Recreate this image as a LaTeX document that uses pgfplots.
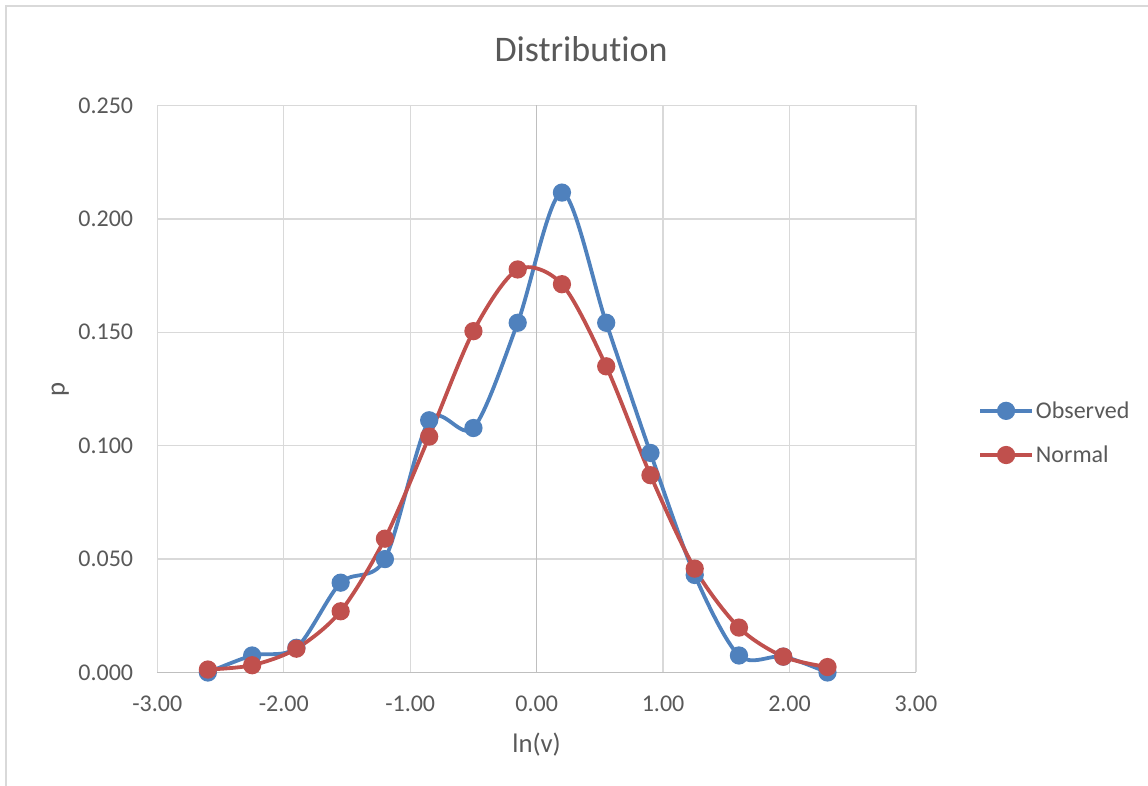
\documentclass[border=0pt]{standalone}
\usepackage{pgfplots}
\pgfplotsset{compat=1.18}
\usepackage{fontspec}
\setmainfont{Carlito}[Ligatures=NoCommon]
\definecolor{obsblue}{HTML}{4F81BD}
\definecolor{normred}{HTML}{C0504D}
\definecolor{gridgray}{HTML}{D9D9D9}
\definecolor{axgray}{HTML}{BFBFBF}
\definecolor{txtgray}{HTML}{595959}
\begin{document}
\begin{tikzpicture}[x=1pt,y=1pt]
\useasboundingbox (0,0) rectangle (1148,786);
\draw[gridgray,line width=1.5pt] (6,-20) -- (6,780) -- (1170,780);
\begin{axis}[
  at={(157.3pt,113.5pt)}, anchor=south west,
  scale only axis, width=758.7pt, height=567pt,
  xmin=-3, xmax=3, ymin=0, ymax=0.25,
  xtick={-3,-2,-1,0,1,2,3},
  ytick={0,0.05,0.1,0.15,0.2,0.25},
  grid=major,
  major grid style={gridgray,line width=1.3pt},
  axis line style={draw=none},
  major tick length=0pt,
  tick style={draw=none},
  clip=false,
  /pgf/number format/assume math mode=true,
  xticklabel style={font=\fontsize{24}{28}\selectfont, text=txtgray, anchor=base, yshift=-39pt,
    /pgf/number format/fixed, /pgf/number format/fixed zerofill, /pgf/number format/precision=2},
  yticklabel style={font=\fontsize{24}{28}\selectfont, text=txtgray, anchor=east, inner sep=0pt, xshift=-24pt,
    /pgf/number format/fixed, /pgf/number format/fixed zerofill, /pgf/number format/precision=3},
  title={Distribution},
  title style={font=\fontsize{36}{42}\selectfont, text=txtgray, at={(axis description cs:0.5585,1.0)}, anchor=base, yshift=38pt, inner sep=0pt},
  xlabel={ln(v)},
  xlabel style={font=\fontsize{26.7}{30}\selectfont, text=txtgray, at={(axis description cs:0.5,0)}, anchor=base, yshift=-80.5pt, inner sep=0pt},
  ylabel={p},
  ylabel style={font=\fontsize{26.7}{30}\selectfont, text=txtgray, at={(axis description cs:-0.128,0.5)}, anchor=center, inner sep=0pt},
  legend style={draw=none, fill=none, at={(axis description cs:1.0817,0.4225)}, anchor=west,
    font=\fontsize{24}{28}\selectfont, text=txtgray, inner sep=0pt, row sep=26pt,
    nodes={inner sep=0pt}},
  legend cell align=left,
  legend image code/.code={\draw[mark repeat=2,mark phase=2,#1] plot coordinates {(0pt,0pt) (26pt,0pt) (52pt,0pt)};},
  every axis plot/.append style={line width=3.8pt, smooth, tension=0.5, mark=*, mark size=7.2pt, mark options={line width=0pt}},
]
\draw[axgray,line width=1.5pt] (axis cs:-3,0) -- (axis cs:3,0);
\draw[axgray,line width=1.5pt] (axis cs:0,0) -- (axis cs:0,0.25);
\addplot[obsblue, mark options={fill=obsblue, draw=obsblue}] coordinates {
(-2.60,0.0000) (-2.25,0.0075) (-1.90,0.0109) (-1.55,0.0396) (-1.20,0.0500)
(-0.85,0.1112) (-0.50,0.1078) (-0.15,0.1542) (0.20,0.2116) (0.55,0.1542)
(0.90,0.0968) (1.25,0.0430) (1.60,0.0075) (1.95,0.0070) (2.30,0.0000)};
\addlegendentry{\hspace{2pt}Observed}
\addplot[normred, mark options={fill=normred, draw=normred}] coordinates {
(-2.60,0.0013) (-2.25,0.0032) (-1.90,0.0105) (-1.55,0.0270) (-1.20,0.0590)
(-0.85,0.1040) (-0.50,0.1505) (-0.15,0.1777) (0.20,0.1712) (0.55,0.1350)
(0.90,0.0870) (1.25,0.0458) (1.60,0.0198) (1.95,0.0070) (2.30,0.0024)};
\addlegendentry{\hspace{2pt}Normal}
\end{axis}
\end{tikzpicture}
\end{document}
